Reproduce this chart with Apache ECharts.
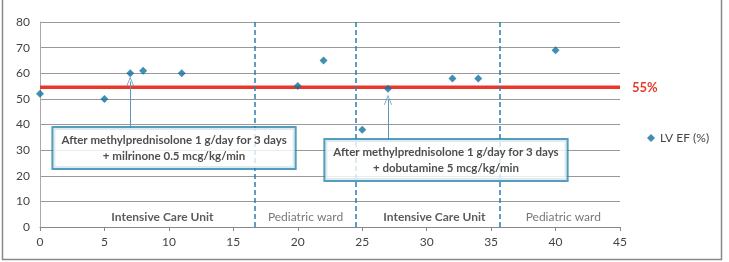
<!DOCTYPE html>
<html>
<head>
<meta charset="utf-8">
<script src="https://cdn.jsdelivr.net/npm/echarts@6/dist/echarts.min.js"></script>
<style>
  html, body { margin: 0; padding: 0; background: #fff; }
  #chart { width: 729px; height: 262px; }
</style>
</head>
<body>
<div id="chart"></div>
<script>
// LV EF measurements (day, %)
var efDays = [0, 5, 7, 8, 11, 20, 22, 25, 27, 32, 34, 40];
var efValues = [52, 50, 60, 61, 60, 55, 65, 38, 54, 58, 58, 69];

// 55% threshold line
var thresholdLevel = 54.5;
var thresholdLabel = '55%';

// ward change days (dashed lines)
var wardChanges = [16.7, 24.5, 35.7];

// ward names
var wardNames = ['Intensive Care Unit', 'Pediatric ward', 'Intensive Care Unit', 'Pediatric ward'];
var wardCenters = [9.5, 20.6, 30.6, 40.6];
var wardBold = [true, false, true, false];

// treatment notes
var noteTexts = [
    'After methylprednisolone 1 g/day for 3 days\n+ milrinone 0.5 mcg/kg/min',
    'After methylprednisolone 1 g/day for 3 days\n+ dobutamine 5 mcg/kg/min'
];
var notePos = [[10.4, 30.8], [31.5, 26.1]];
var arrowDays = [7, 27];
var arrowFrom = [38.8, 34.1];
var arrowTo = [56.8, 49.7];

var xTicks = { min: 0, max: 45, step: 5 };
var yTicks = { min: 0, max: 80, step: 10 };

var FONT = 'Lato';
var chart = echarts.init(document.getElementById('chart'));

var pointData = efDays.map(function (d, i) { return [d, efValues[i]]; });

var wardData = wardNames.map(function (n, i) {
    return {
        value: [wardCenters[i], 4],
        label: {
            formatter: n,
            fontWeight: wardBold[i] ? 'bold' : 'normal',
            color: wardBold[i] ? '#333' : '#555'
        }
    };
});

var noteData = noteTexts.map(function (t, i) {
    return { value: notePos[i], label: { formatter: t } };
});

var arrowLines = arrowDays.map(function (d, i) {
    return [{ coord: [d, arrowFrom[i]] }, { coord: [d, arrowTo[i]] }];
});

var option = {
    animation: false,
    textStyle: { fontFamily: FONT },
    grid: { left: 40, right: 109, top: 22, bottom: 35 },
    legend: {
        data: ['LV EF (%)'],
        left: 642,
        top: 127,
        icon: 'diamond',
        itemWidth: 8,
        itemHeight: 8,
        itemGap: 4,
        textStyle: { fontFamily: FONT, fontSize: 12, color: '#444' }
    },
    graphic: [
        {
            type: 'rect',
            silent: true,
            shape: { x: 2.5, y: -5, width: 719, height: 264.5 },
            style: { fill: 'none', stroke: '#888', lineWidth: 1.5 }
        }
    ],
    xAxis: {
        type: 'value',
        min: xTicks.min,
        max: xTicks.max,
        interval: xTicks.step,
        axisLine: { show: true, lineStyle: { color: '#888' } },
        axisTick: { show: true, length: 4, lineStyle: { color: '#888' } },
        splitLine: { show: false },
        axisLabel: { color: '#444', fontSize: 12, fontFamily: FONT, margin: 9 }
    },
    yAxis: {
        type: 'value',
        min: yTicks.min,
        max: yTicks.max,
        interval: yTicks.step,
        axisLine: { show: true, lineStyle: { color: '#aaa' } },
        axisTick: { show: false },
        splitLine: { show: true, lineStyle: { color: '#999', width: 1 } },
        axisLabel: { color: '#444', fontSize: 12, fontFamily: FONT, margin: 10 }
    },
    series: [
        {
            name: 'threshold',
            type: 'line',
            data: [[xTicks.min, thresholdLevel], [xTicks.max, thresholdLevel]],
            symbol: 'none',
            silent: true,
            lineStyle: { color: '#e8382a', width: 3.5 },
            endLabel: {
                show: true,
                formatter: thresholdLabel,
                color: '#e8382a',
                fontWeight: 'bold',
                fontSize: 13,
                fontFamily: FONT,
                distance: 12
            },
            z: 2
        },
        {
            name: 'LV EF (%)',
            type: 'scatter',
            data: pointData,
            symbol: 'diamond',
            symbolSize: 8,
            itemStyle: { color: '#13729f' },
            z: 4,
            markLine: {
                silent: true,
                symbol: 'none',
                label: { show: false },
                lineStyle: { color: '#2b7db3', width: 1.5, type: [5, 3] },
                data: wardChanges.map(function (v) { return { xAxis: v }; })
            }
        },
        {
            name: 'arrows',
            type: 'scatter',
            data: [],
            silent: true,
            markLine: {
                silent: true,
                symbol: ['none', 'path://M0,10 L5,0 L10,10 L9,10 L5,2 L1,10 Z'],
                symbolSize: [8, 10],
                label: { show: false },
                lineStyle: { color: '#5a98b8', width: 1, type: 'solid' },
                data: arrowLines
            }
        },
        {
            name: 'wards',
            type: 'scatter',
            data: wardData,
            symbolSize: 0,
            silent: true,
            label: {
                show: true,
                position: 'inside',
                fontSize: 12,
                fontFamily: FONT
            },
            z: 3
        },
        {
            name: 'notes',
            type: 'scatter',
            data: noteData,
            symbolSize: 0,
            silent: true,
            label: {
                show: true,
                position: 'inside',
                fontSize: 11.5,
                fontWeight: 'bold',
                fontFamily: FONT,
                color: '#222',
                lineHeight: 16,
                align: 'center',
                backgroundColor: '#fff',
                borderColor: '#2a86aa',
                borderWidth: 2,
                padding: [4, 8, 4, 8]
            },
            z: 5
        }
    ]
};
chart.setOption(option);
</script>
</body>
</html>
